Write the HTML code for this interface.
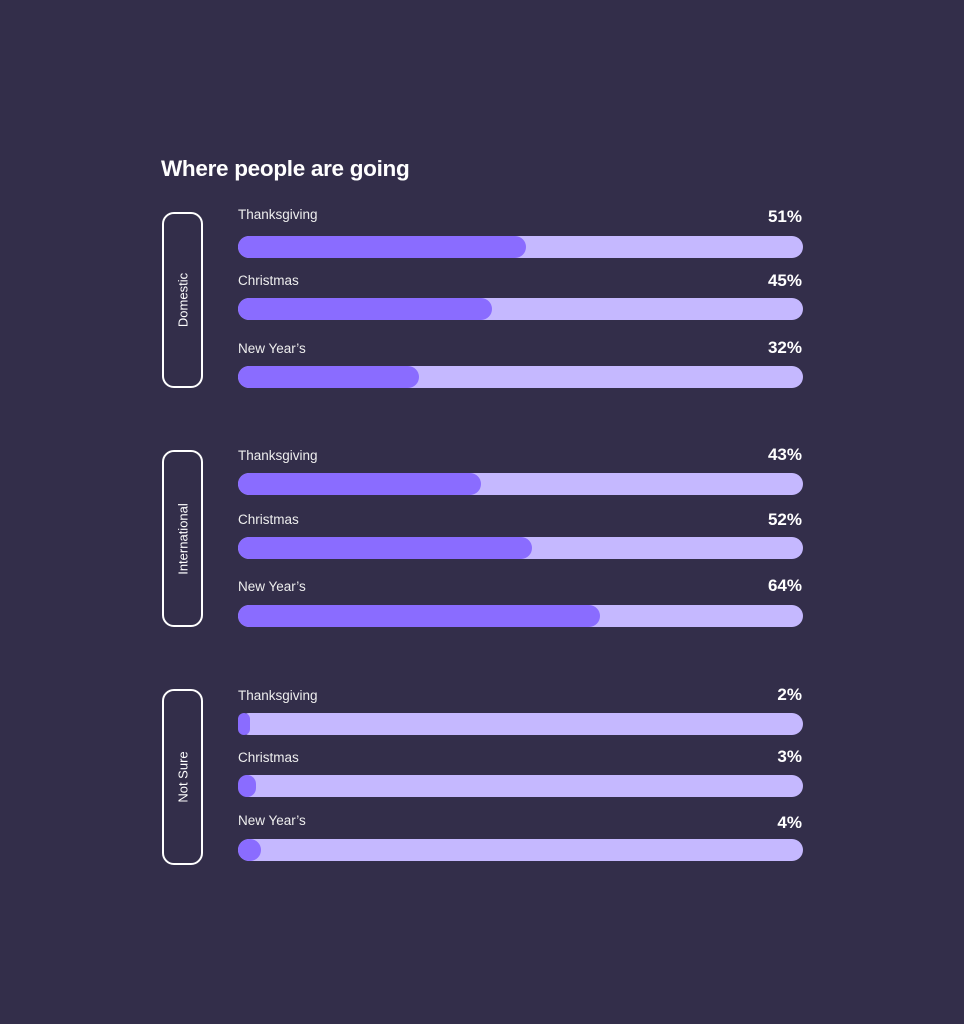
<!DOCTYPE html>
<html><head><meta charset="utf-8"><style>
body{margin:0;width:964px;height:1024px;background:#332e4a;position:relative;overflow:hidden;font-family:"Liberation Sans",sans-serif;color:#fff}
.t{position:absolute;left:161px;top:156px;font-size:22.5px;font-weight:bold;letter-spacing:-0.3px}
.box{position:absolute;left:162px;height:174px;border:2px solid #fff;border-radius:12px;box-sizing:border-box;width:41px}
.box span{position:absolute;left:50%;top:50%;transform:translate(-50%,-50%) rotate(-90deg);font-size:13px;white-space:nowrap}
.lab{position:absolute;left:238px;font-size:13.5px;color:#eee}
.pct{position:absolute;right:162px;font-size:17px;font-weight:bold}
.tr{position:absolute;left:238px;width:565px;height:22px;border-radius:11px;background:#c5b8ff}
.f{position:absolute;left:0;top:0;height:22px;border-radius:11px;background:#8a6cff}
</style></head><body>
<div class="t">Where people are going</div>
<div class="box" style="top:212px;height:176px"><span>Domestic</span></div>
<div class="box" style="top:450px;height:177px"><span>International</span></div>
<div class="box" style="top:689px;height:176px"><span>Not Sure</span></div>

<div class="lab" style="top:207px">Thanksgiving</div><div class="pct" style="top:207px">51%</div>
<div class="tr" style="top:236px"><div class="f" style="width:288px"></div></div>
<div class="lab" style="top:273px">Christmas</div><div class="pct" style="top:271px">45%</div>
<div class="tr" style="top:298px"><div class="f" style="width:254px"></div></div>
<div class="lab" style="top:341px">New Year’s</div><div class="pct" style="top:338px">32%</div>
<div class="tr" style="top:366px"><div class="f" style="width:181px"></div></div>

<div class="lab" style="top:448px">Thanksgiving</div><div class="pct" style="top:445px">43%</div>
<div class="tr" style="top:473px"><div class="f" style="width:243px"></div></div>
<div class="lab" style="top:512px">Christmas</div><div class="pct" style="top:510px">52%</div>
<div class="tr" style="top:537px"><div class="f" style="width:294px"></div></div>
<div class="lab" style="top:579px">New Year’s</div><div class="pct" style="top:576px">64%</div>
<div class="tr" style="top:605px"><div class="f" style="width:362px"></div></div>

<div class="lab" style="top:688px">Thanksgiving</div><div class="pct" style="top:685px">2%</div>
<div class="tr" style="top:713px"><div class="f" style="width:12px"></div></div>
<div class="lab" style="top:750px">Christmas</div><div class="pct" style="top:747px">3%</div>
<div class="tr" style="top:775px"><div class="f" style="width:18px"></div></div>
<div class="lab" style="top:813px">New Year’s</div><div class="pct" style="top:813px">4%</div>
<div class="tr" style="top:839px"><div class="f" style="width:23px"></div></div>
</body></html>
